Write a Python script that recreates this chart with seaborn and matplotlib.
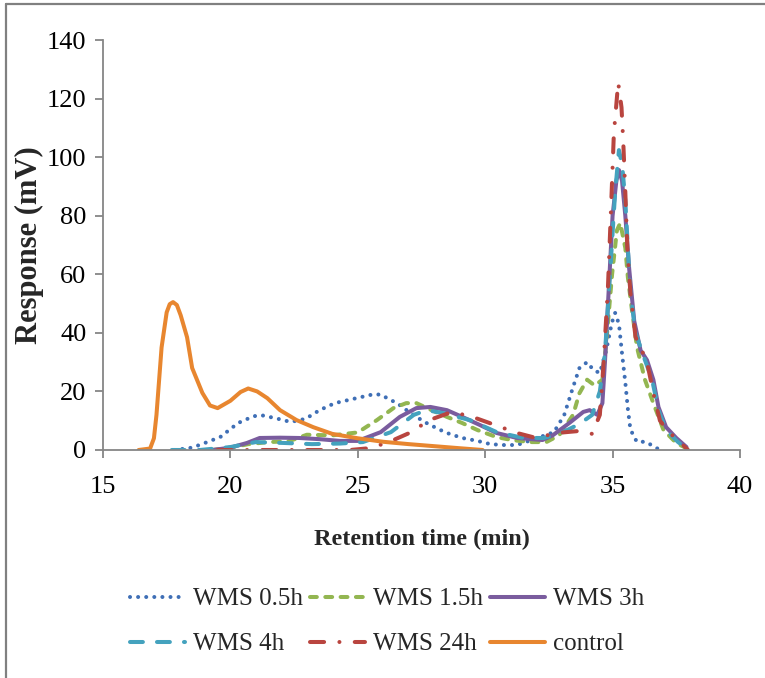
import numpy as np
import pandas as pd
import matplotlib.pyplot as plt
import seaborn as sns
from matplotlib.lines import Line2D

# values
x_05 = [17.8, 18.5, 19.0, 19.6, 20.3, 20.9, 21.2, 21.75, 22.35, 22.75, 23.0, 23.5, 24.1, 24.7, 25.3, 25.65,
        25.95, 26.2, 26.55, 26.8, 27.3, 27.7, 28.15, 28.5, 29.1, 29.7, 30.2, 30.7, 31.25, 32.15, 32.7, 33.1,
        33.45, 33.7, 34.0, 34.25, 34.5, 34.75, 34.97, 35.1, 35.25, 35.37, 35.5, 35.6, 35.7, 35.95, 36.3, 36.8]
y_05 = [0, 0.8, 2.4, 4.4, 9.2, 11.5, 11.9, 10.9, 9.6, 10.2, 10.9, 13.6, 16, 17.2, 18.4, 19.1,
        18.8, 17.4, 16, 14.3, 11.3, 9.2, 7.2, 5.8, 4.1, 3.1, 2.0, 1.7, 1.7, 4.4, 6.1, 11.9,
        21.5, 28, 30, 27.3, 26.3, 34, 43.4, 46.8, 43, 33, 23, 14, 7, 2.8, 2.8, 0.3]

x_15 = [19.3, 20.0, 20.7, 21.5, 22.3, 23.0, 24.0, 25.0, 25.75, 26.4, 26.9, 27.3, 27.8, 28.5, 29.1, 29.7,
        30.45, 31.05, 31.75, 32.4, 32.9, 33.45, 33.7, 34.0, 34.3, 34.6, 34.75, 34.98, 35.17, 35.3, 35.5,
        35.6, 35.76, 35.96, 36.27, 36.6, 37.0, 37.5, 37.9]
y_15 = [0, 0.8, 2.0, 2.7, 3.0, 5.2, 5.0, 6.0, 10.2, 14.3, 16, 16, 14, 11.3, 9.2, 6.8,
        4.4, 3.4, 2.7, 2.7, 5, 12, 19.4, 24, 22, 24, 36.5, 60, 75, 77.5, 69,
        59, 47.8, 35, 24, 16, 6.8, 2.4, 0.6]

x_3 = [19.3, 20.0, 20.65, 21.15, 21.95, 22.7, 23.5, 24.3, 25.0, 25.9, 26.65, 27.3, 27.85, 28.5, 29.1,
       29.8, 30.45, 31.25, 32.25, 32.65, 33.3, 33.85, 34.1, 34.4, 34.6, 34.7, 34.85, 35.0, 35.15, 35.25,
       35.37, 35.5, 35.65, 35.85, 36.1, 36.35, 36.6, 36.8, 37.1, 37.5, 37.9]
y_3 = [0, 0.8, 2.4, 4.1, 4.2, 4.1, 3.7, 3.1, 3.1, 6.1, 11.3, 14.3, 14.7, 13.6, 11.3,
       8.5, 5.8, 4.1, 3.4, 5, 9.2, 13, 13.6, 12, 16, 30, 55, 80, 92, 95.6,
       92, 80, 62, 44, 34, 30.7, 24, 14.7, 7.8, 4.1, 1]

x_4 = [17.7, 18.8, 20.0, 21.0, 22.1, 23.2, 24.3, 25.2, 26.3, 27.2, 27.7, 28.35, 29.4, 30.45, 31.5, 32.3,
       32.9, 33.45, 33.8, 34.2, 34.5, 34.7, 34.9, 35.1, 35.25, 35.38, 35.5, 35.6, 35.7, 35.9, 36.27, 36.55,
       36.8, 37.1, 37.57, 37.9]
y_4 = [0, 0, 1, 2.7, 2.4, 2.0, 2.2, 2.7, 6.1, 12, 13.6, 12.6, 10.2, 6.1, 4.1, 4.1,
       5.5, 7.8, 9.5, 12, 20, 33, 60, 88, 102.4, 97, 85, 69, 53.6, 40, 30.7, 24,
       13.7, 6.8, 2.7, 0.6]

x_24 = [19.5, 24.7, 25.55, 26.4, 27.1, 27.8, 28.7, 29.5, 30.4, 31.25, 32.0, 32.8, 33.7, 34.2, 34.5,
        34.65, 34.82, 34.95, 35.05, 35.22, 35.35, 35.42, 35.5, 35.58, 35.7, 35.9, 36.2, 36.4, 36.6,
        36.86, 37.25, 37.76, 37.96]
y_24 = [0, 0, 0.7, 3.4, 6.1, 10.2, 13, 11.3, 8.5, 5.8, 4.1, 5.8, 6.5, 5.5, 12,
        30, 56, 85, 108, 125.5, 117, 105, 88, 69, 53.6, 38.6, 33, 28, 19.4,
        10, 5.8, 1.7, 0]

x_ctrl = [16.4, 16.85, 17.0, 17.1, 17.3, 17.5, 17.62, 17.75, 17.9, 18.05, 18.3, 18.5, 18.9, 19.2, 19.5,
          20.0, 20.4, 20.7, 21.05, 21.45, 21.95, 22.6, 23.25, 24.0, 25.0, 26.0, 27.0, 28.0, 29.0, 29.9]
y_ctrl = [0, 0.5, 4, 12, 35, 47, 49.8, 50.5, 49.5, 46, 38.5, 28, 19.5, 15.2, 14.3,
          16.8, 19.8, 21, 20, 17.7, 13.6, 10.2, 7.8, 5.5, 4.0, 2.8, 2.0, 1.3, 0.6, 0]

labels = ["WMS 0.5h", "WMS 1.5h", "WMS 3h", "WMS 4h", "WMS 24h", "control"]
xs = [x_05, x_15, x_3, x_4, x_24, x_ctrl]
ys = [y_05, y_15, y_3, y_4, y_24, y_ctrl]
colors = ["#3F6FB6", "#93B651", "#7A5C9E", "#44A2BE", "#B9453F", "#E8862F"]
dashes = [(0.01, 2.0), (1.7, 2.1), None, (3.2, 3.5), (3.5, 3.8, 0.01, 3.8), None]

sns.set_style("ticks")
plt.rcParams["font.family"] = ["Liberation Serif", "DejaVu Serif"]

fig = plt.figure(figsize=(7.65, 6.78), dpi=100)
ax = fig.add_axes([0.1346, 0.3363, 0.8327, 0.6047])

for x, y, lab, c, d in zip(xs, ys, labels, colors, dashes):
    df = pd.DataFrame({"t": x, "r": y})
    sns.lineplot(data=df, x="t", y="r", ax=ax, color=c, linewidth=2.9, label=lab, sort=False)
    ln = ax.lines[-1]
    ln.set_solid_capstyle("round")
    ln.set_solid_joinstyle("round")
    ln.set_dash_capstyle("round")
    if d is not None:
        ln.set_dashes(d)

ax.set_xlim(15, 40)
ax.set_ylim(0, 140)
ax.set_xticks(range(15, 41, 5))
ax.set_yticks(range(0, 141, 20))
sns.despine(ax=ax)
for s in ["left", "bottom"]:
    ax.spines[s].set_color("#868686")
    ax.spines[s].set_linewidth(1.3)
ax.tick_params(colors="#868686", labelcolor="black", length=6, width=1.3, labelsize=19)
ax.tick_params(axis="x", pad=13)
ax.tick_params(axis="y", pad=6)

ax.set_xlabel("Retention time (min)", fontsize=17.5, fontweight="bold", labelpad=22)
ax.set_ylabel("Response (mV)", fontsize=22, fontweight="bold", labelpad=2)

h, l = ax.get_legend_handles_labels()
order = [0, 3, 1, 4, 2, 5]
ax.legend([h[i] for i in order], [l[i] for i in order], ncol=3, frameon=False,
          fontsize=18, handlelength=2.2, handletextpad=0.3, columnspacing=0.3,
          labelspacing=0.9, loc="upper center", bbox_to_anchor=(0.506, 0.166),
          bbox_transform=fig.transFigure)

# outer frame lines of the original picture
fig.add_artist(Line2D([0.008, 0.008], [0, 0.994], transform=fig.transFigure, color="#808080", lw=1.6))
fig.add_artist(Line2D([0.008, 1], [0.994, 0.994], transform=fig.transFigure, color="#808080", lw=1.6))

fig.savefig("out.png", dpi=100)
